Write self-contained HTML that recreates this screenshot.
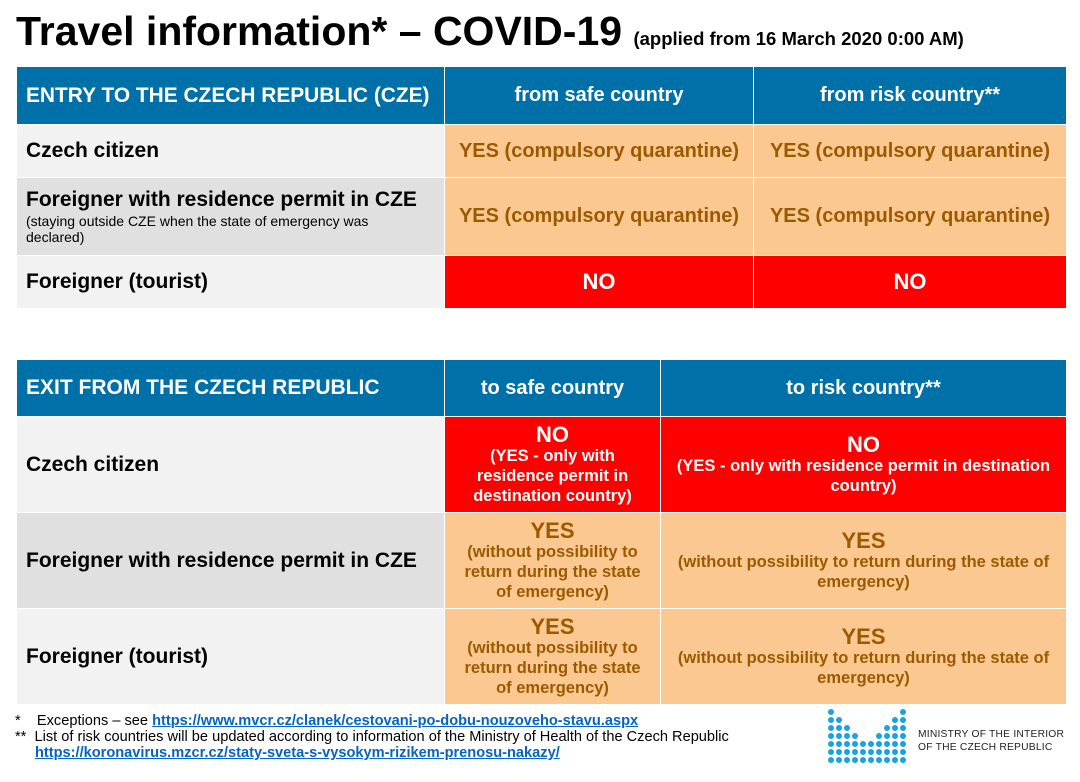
<!DOCTYPE html>
<html><head><meta charset="utf-8"><style>
*{margin:0;padding:0;box-sizing:border-box}
body{width:1080px;height:782px;background:#fff;font-family:"Liberation Sans",Arial,sans-serif;position:relative;overflow:hidden}
.c{position:absolute;display:flex;align-items:center;font-weight:bold}
.h{background:#0070a8;color:#fff;font-size:20px}
.ctr{justify-content:center;text-align:center;flex-direction:column}
.l1{background:#f2f2f2;color:#000;font-size:21px;padding-left:9px}
.l2{background:#e0e0e0;color:#000;font-size:21px;padding-left:9px}
.o{background:#fac890;color:#9c5a00}
.r{background:#ff0000;color:#fff}
.ft{position:absolute;font-size:14.6px;color:#000;white-space:nowrap}
a{color:#0563c1;font-weight:bold;text-decoration:underline}
.s{font-size:16.5px;line-height:20px}
.b{font-size:22px;line-height:23px}
</style></head><body>
<div style="position:absolute;left:16px;top:8px;font-size:41px;font-weight:bold;white-space:nowrap">Travel information* – COVID-19 <span style="font-size:18.5px">(applied from 16 March 2020 0:00 AM)</span></div>

<div class="c h" style="left:17px;top:67px;width:427px;height:57px;padding-left:9px;font-size:20.9px">ENTRY TO THE CZECH REPUBLIC (CZE)</div>
<div class="c h ctr" style="left:445px;top:67px;width:308px;height:57px">from safe country</div>
<div class="c h ctr" style="left:754px;top:67px;width:312px;height:57px">from risk country**</div>

<div class="c l1" style="left:17px;top:125px;width:427px;height:52px">Czech citizen</div>
<div class="c o ctr" style="left:445px;top:125px;width:308px;height:52px;font-size:20px">YES (compulsory quarantine)</div>
<div class="c o ctr" style="left:754px;top:125px;width:312px;height:52px;font-size:20px">YES (compulsory quarantine)</div>

<div class="c l2" style="left:17px;top:178px;width:427px;height:77px;flex-direction:column;align-items:flex-start;justify-content:center"><div>Foreigner with residence permit in CZE</div><div style="font-size:14px;font-weight:normal;line-height:16px;margin-top:1px">(staying outside CZE when the state of emergency was<br>declared)</div></div>
<div class="c o ctr" style="left:445px;top:178px;width:308px;height:77px;font-size:20px">YES (compulsory quarantine)</div>
<div class="c o ctr" style="left:754px;top:178px;width:312px;height:77px;font-size:20px">YES (compulsory quarantine)</div>

<div class="c l1" style="left:17px;top:256px;width:427px;height:52px">Foreigner (tourist)</div>
<div class="c r ctr" style="left:445px;top:256px;width:308px;height:52px;font-size:22px">NO</div>
<div class="c r ctr" style="left:754px;top:256px;width:312px;height:52px;font-size:22px">NO</div>

<div class="c h" style="left:17px;top:360px;width:427px;height:56px;padding-left:9px;font-size:21px">EXIT FROM THE CZECH REPUBLIC</div>
<div class="c h ctr" style="left:445px;top:360px;width:215px;height:56px">to safe country</div>
<div class="c h ctr" style="left:661px;top:360px;width:405px;height:56px">to risk country**</div>

<div class="c l1" style="left:17px;top:417px;width:427px;height:95px">Czech citizen</div>
<div class="c r ctr s" style="left:445px;top:417px;width:215px;height:95px"><div class="b">NO</div>(YES - only with<br>residence permit in<br>destination country)</div>
<div class="c r ctr s" style="left:661px;top:417px;width:405px;height:95px"><div class="b">NO</div>(YES - only with residence permit in destination<br>country)</div>

<div class="c l2" style="left:17px;top:513px;width:427px;height:95px">Foreigner with residence permit in CZE</div>
<div class="c o ctr s" style="left:445px;top:513px;width:215px;height:95px"><div class="b">YES</div>(without possibility to<br>return during the state<br>of emergency)</div>
<div class="c o ctr s" style="left:661px;top:513px;width:405px;height:95px"><div class="b">YES</div>(without possibility to return during the state of<br>emergency)</div>

<div class="c l1" style="left:17px;top:609px;width:427px;height:95px">Foreigner (tourist)</div>
<div class="c o ctr s" style="left:445px;top:609px;width:215px;height:95px"><div class="b">YES</div>(without possibility to<br>return during the state<br>of emergency)</div>
<div class="c o ctr s" style="left:661px;top:609px;width:405px;height:95px"><div class="b">YES</div>(without possibility to return during the state of<br>emergency)</div>

<div class="ft" style="left:15px;top:713px">*&nbsp;&nbsp;&nbsp;&nbsp;Exceptions – see <a>https://www.mvcr.cz/clanek/cestovani-po-dobu-nouzoveho-stavu.aspx</a></div>
<div class="ft" style="left:15px;top:729px">**&nbsp;&nbsp;List of risk countries will be updated according to information of the Ministry of Health of the Czech Republic</div>
<div class="ft" style="left:35px;top:745px"><a>https://koronavirus.mzcr.cz/staty-sveta-s-vysokym-rizikem-prenosu-nakazy/</a></div>

<div style="position:absolute;left:918px;top:728px;font-size:10.3px;line-height:13px;color:#222;letter-spacing:0.2px">MINISTRY OF THE INTERIOR<br>OF THE CZECH REPUBLIC</div>
<svg style="position:absolute;left:826px;top:706px" width="84" height="64" fill="#1aa3dc">
<g>
<circle cx="5" cy="6" r="3"/><circle cx="5" cy="14" r="3"/><circle cx="5" cy="22" r="3"/><circle cx="5" cy="30" r="3"/><circle cx="5" cy="38" r="3"/><circle cx="5" cy="46" r="3"/><circle cx="5" cy="54" r="3"/>
<circle cx="13" cy="14" r="3"/><circle cx="13" cy="22" r="3"/><circle cx="13" cy="30" r="3"/><circle cx="13" cy="38" r="3"/><circle cx="13" cy="46" r="3"/><circle cx="13" cy="54" r="3"/>
<circle cx="21" cy="22" r="3"/><circle cx="21" cy="30" r="3"/><circle cx="21" cy="38" r="3"/><circle cx="21" cy="46" r="3"/><circle cx="21" cy="54" r="3"/>
<circle cx="29" cy="30" r="3"/><circle cx="29" cy="38" r="3"/><circle cx="29" cy="46" r="3"/><circle cx="29" cy="54" r="3"/>
<circle cx="37" cy="38" r="3"/><circle cx="37" cy="46" r="3"/><circle cx="37" cy="54" r="3"/>
<circle cx="45" cy="38" r="3"/><circle cx="45" cy="46" r="3"/><circle cx="45" cy="54" r="3"/>
<circle cx="53" cy="30" r="3"/><circle cx="53" cy="38" r="3"/><circle cx="53" cy="46" r="3"/><circle cx="53" cy="54" r="3"/>
<circle cx="61" cy="22" r="3"/><circle cx="61" cy="30" r="3"/><circle cx="61" cy="38" r="3"/><circle cx="61" cy="46" r="3"/><circle cx="61" cy="54" r="3"/>
<circle cx="69" cy="14" r="3"/><circle cx="69" cy="22" r="3"/><circle cx="69" cy="30" r="3"/><circle cx="69" cy="38" r="3"/><circle cx="69" cy="46" r="3"/><circle cx="69" cy="54" r="3"/>
<circle cx="77" cy="6" r="3"/><circle cx="77" cy="14" r="3"/><circle cx="77" cy="22" r="3"/><circle cx="77" cy="30" r="3"/><circle cx="77" cy="38" r="3"/><circle cx="77" cy="46" r="3"/><circle cx="77" cy="54" r="3"/>
</g>
</svg>
</body></html>
